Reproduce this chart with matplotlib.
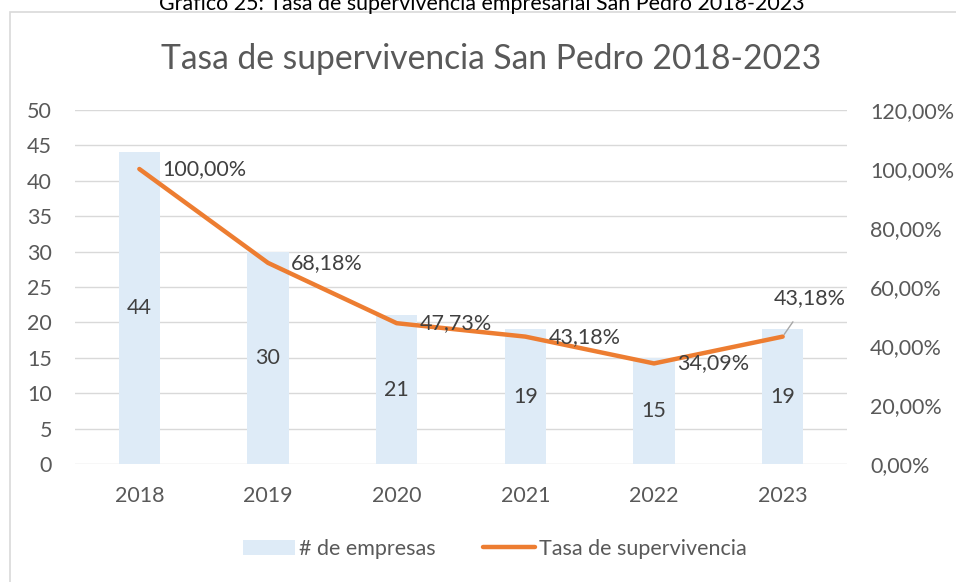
import matplotlib
matplotlib.use('Agg')
import matplotlib.pyplot as plt
from matplotlib.patches import Rectangle, Patch
from matplotlib.lines import Line2D

years = ['2018', '2019', '2020', '2021', '2022', '2023']
empresas = [44, 30, 21, 19, 15, 19]
tasa = [100.00, 68.18, 47.73, 43.18, 34.09, 43.18]
left_ticks = [0, 5, 10, 15, 20, 25, 30, 35, 40, 45, 50]
right_ticks = [0, 20, 40, 60, 80, 100, 120]

plt.rcParams['font.family'] = ['Lato', 'DejaVu Sans']

W, H = 956, 582
fig = plt.figure(figsize=(W / 100, H / 100), dpi=100)

def fx(px):
    return px / W

def fy(py):
    return 1 - py / H

# outer chart frame (runs off the right and bottom edges)
fig.patches.append(Rectangle((fx(10), fy(600)), 1.2, fy(12) - fy(600),
                             transform=fig.transFigure, fill=False,
                             edgecolor='#D9D9D9', linewidth=1.2))

# caption sits half outside the top edge, as in the source
fig.text(fx(482), fy(10), 'Gráfico 25: Tasa de supervivencia empresarial San Pedro 2018-2023',
         ha='center', va='baseline', fontsize=15.4, color='#000000')

ax = fig.add_axes([fx(75), fy(464), fx(847) - fx(75), fy(110) - fy(464)])
x = list(range(len(years)))
ax.bar(x, empresas, width=0.32, color='#DEEBF7', zorder=2)
ax.set_xlim(-0.5, 5.5)
ax.set_ylim(0, 50)
ax.set_yticks(left_ticks)
ax.set_xticks(x)
ax.set_xticklabels(years)
ax.grid(axis='y', color='#D9D9D9', linewidth=1, zorder=0)
ax.set_axisbelow(True)
for s in ax.spines.values():
    s.set_visible(False)
ax.tick_params(length=0, labelsize=15.5, colors='#595959', pad=16.5)
ax.tick_params(axis='x', pad=16)

for xi, v in zip(x, empresas):
    ax.text(xi, v / 2, str(v), ha='center', va='center', fontsize=15.5, color='#404040', zorder=4)

ax2 = ax.twinx()
ax2.plot(x, tasa, color='#ED7D31', linewidth=3.2, solid_capstyle='round', zorder=3)
ax2.set_ylim(0, 120)
ax2.set_yticks(right_ticks)
ax2.set_yticklabels([f'{t},00%' for t in right_ticks])
for s in ax2.spines.values():
    s.set_visible(False)
ax2.tick_params(length=0, labelsize=15.5, colors='#595959', pad=16.5)

for xi, v in zip(x[:-1], tasa[:-1]):
    ax2.annotate(f'{v:.2f}'.replace('.', ',') + '%', (xi, v), xytext=(23, 0),
                 textcoords='offset pixels', ha='left', va='center',
                 fontsize=15.5, color='#404040')
ax2.annotate(f'{tasa[-1]:.2f}'.replace('.', ',') + '%', (x[-1], tasa[-1]), xytext=(27, 39),
             textcoords='offset pixels', ha='center', va='center',
             fontsize=15.5, color='#404040',
             arrowprops=dict(arrowstyle='-', color='#A6A6A6', lw=1, shrinkA=10, shrinkB=2))

fig.text(fx(491), fy(59), 'Tasa de supervivencia San Pedro 2018-2023',
         ha='center', va='center', fontsize=24.2, color='#595959')

handles = [Patch(facecolor='#DEEBF7', edgecolor='none', label='# de empresas'),
           Line2D([0], [0], color='#ED7D31', lw=3.2, solid_capstyle='round',
                  label='Tasa de supervivencia')]
leg = fig.legend(handles=handles, loc='center', bbox_to_anchor=(fx(495), fy(549)),
                 ncol=2, frameon=False, fontsize=15.5, handlelength=2.4,
                 handletextpad=0.2, columnspacing=2.2)
for t in leg.get_texts():
    t.set_color('#595959')

fig.savefig('out.png', dpi=100)
